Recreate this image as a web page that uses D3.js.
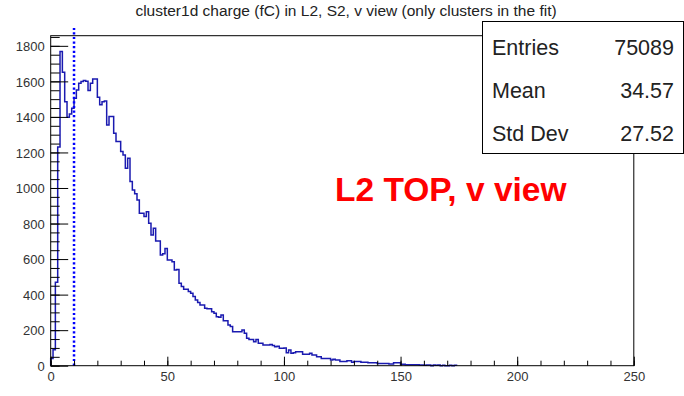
<!DOCTYPE html>
<html>
<head>
<meta charset="utf-8">
<script src="https://cdn.jsdelivr.net/npm/d3@7"></script>
<style>
  html, body { margin: 0; padding: 0; background: #fff; }
  svg { display: block; font-family: "Liberation Sans", Arial, Helvetica, sans-serif; }
</style>
</head>
<body>
<div id="chart"></div>
<script>
// histogram bin contents, 1 fC per bin starting at 0
const counts = [
  40, 90, 470, 1230, 1768, 1652, 1486, 1398, 1417, 1449,
  1505, 1552, 1590, 1599, 1605, 1600, 1548, 1590, 1614, 1614,
  1511, 1468, 1486, 1490, 1355, 1402, 1402, 1308, 1261, 1261,
  1205, 1186, 1111, 1167, 1036, 989, 967, 933, 858, 858,
  839, 867, 801, 736, 773, 702, 702, 623, 630, 660,
  595, 595, 585, 539, 542, 464, 445, 430, 430, 417,
  407, 389, 370, 355, 342, 342, 323, 320, 320, 304,
  295, 276, 272, 285, 253, 253, 229, 220, 191, 191,
  191, 191, 201, 182, 154, 148, 148, 135, 148, 126,
  126, 116, 116, 116, 120, 113, 107, 110, 98, 98,
  100, 73, 88, 70, 73, 79, 79, 79, 64, 64,
  64, 70, 60, 60, 51, 51, 41, 41, 41, 41,
  32, 36, 32, 32, 23, 23, 23, 28, 28, 20,
  23, 23, 23, 19, 19, 19, 17, 17, 17, 17,
  13, 13, 13, 13, 13, 10, 10, 17, 17, 17,
  8, 8, 6, 6, 6, 6, 6, 6, 4, 4,
  2, 4, 4, 0, 4, 2, 4, 0, 2, 0,
  0, 2, 0, 2
];
const binWidth = 1;
const xMajor = [0, 50, 100, 150, 200, 250];
const yMajor = [0, 200, 400, 600, 800, 1000, 1200, 1400, 1600, 1800];
const cutValue = 10;       // dotted threshold line
const cutTop = 1900;
const statNames = ["Entries", "Mean", "Std Dev"];
const statValues = ["75089", "34.57", "27.52"];
const title = "cluster1d charge (fC) in L2, S2, v view (only clusters in the fit)";
const label = "L2 TOP, v view";

const W = 684, H = 396;
const padL = 50.7, padR = 633.8, padT = 35.7, padB = 365.7;

const svg = d3.select("#chart").append("svg")
  .attr("width", W).attr("height", H);

const x = d3.scaleLinear().domain([0, 250]).range([padL, padR]);
const y = d3.scaleLinear().domain([0, 1857]).range([padB, padT]);

// histogram outline
let d = `M${x(0)},${y(0)}`;
counts.forEach((c, i) => {
  d += `V${y(c)}H${x((i + 1) * binWidth)}`;
});
d += `V${y(0)}`;
svg.append("path")
  .attr("d", d)
  .attr("fill", "none")
  .attr("stroke", "#1a1ab0")
  .attr("stroke-width", 1.5);

// dotted cut line
svg.append("line")
  .attr("x1", x(cutValue)).attr("x2", x(cutValue))
  .attr("y1", y(0)).attr("y2", y(cutTop))
  .attr("stroke", "#0000ff")
  .attr("stroke-width", 2.5)
  .attr("stroke-dasharray", "2.2,2.4");

// frame
svg.append("rect")
  .attr("x", padL).attr("y", padT)
  .attr("width", padR - padL).attr("height", padB - padT)
  .attr("fill", "none").attr("stroke", "#000").attr("stroke-width", 1);

// y axis: major + minor ticks pointing inward
const yMinor = d3.range(0, 1851, 50);
svg.append("g")
  .attr("transform", `translate(${padL},0)`)
  .call(d3.axisLeft(y).tickValues(yMinor).tickFormat("").tickSizeInner(-9).tickSizeOuter(0))
  .call(g => g.select(".domain").remove());
svg.append("g")
  .attr("transform", `translate(${padL},0)`)
  .call(d3.axisLeft(y).tickValues(yMajor).tickFormat(d3.format("d")).tickSizeInner(-17.5).tickSizeOuter(0).tickPadding(6))
  .call(g => g.select(".domain").remove())
  .call(g => g.selectAll("text").attr("font-size", 13).attr("fill", "#333").attr("dy", "0.36em")
    .attr("font-family", "Liberation Sans, Arial, sans-serif"));

// x axis
const xMinor = d3.range(0, 251, 10);
svg.append("g")
  .attr("transform", `translate(0,${padB})`)
  .call(d3.axisBottom(x).tickValues(xMinor).tickFormat("").tickSizeInner(-5).tickSizeOuter(0))
  .call(g => g.select(".domain").remove());
svg.append("g")
  .attr("transform", `translate(0,${padB})`)
  .call(d3.axisBottom(x).tickValues(xMajor).tickFormat(d3.format("d")).tickSizeInner(-9).tickSizeOuter(0).tickPadding(6))
  .call(g => g.select(".domain").remove())
  .call(g => g.selectAll("text").attr("font-size", 13).attr("fill", "#333")
    .attr("font-family", "Liberation Sans, Arial, sans-serif"));
svg.selectAll(".tick line").attr("stroke", "#000");

// title
svg.append("text")
  .attr("x", 346).attr("y", 16)
  .attr("text-anchor", "middle")
  .attr("font-size", 15.5)
  .attr("fill", "#222")
  .text(title);

// stats box
const box = svg.append("g");
box.append("rect")
  .attr("x", 482.5).attr("y", 21.5)
  .attr("width", 201).attr("height", 132)
  .attr("fill", "#fff").attr("stroke", "#000").attr("stroke-width", 1);
statNames.forEach((n, i) => {
  box.append("text")
    .attr("x", 492).attr("y", 55 + i * 43)
    .attr("font-size", 21.5).attr("fill", "#222")
    .text(n);
  box.append("text")
    .attr("x", 674).attr("y", 55 + i * 43)
    .attr("text-anchor", "end")
    .attr("font-size", 21.5).attr("fill", "#222")
    .text(statValues[i]);
});

// label
svg.append("text")
  .attr("x", 335).attr("y", 201)
  .attr("font-size", 33.5)
  .attr("font-weight", "bold")
  .attr("fill", "#ff0000")
  .text(label);
</script>
</body>
</html>
